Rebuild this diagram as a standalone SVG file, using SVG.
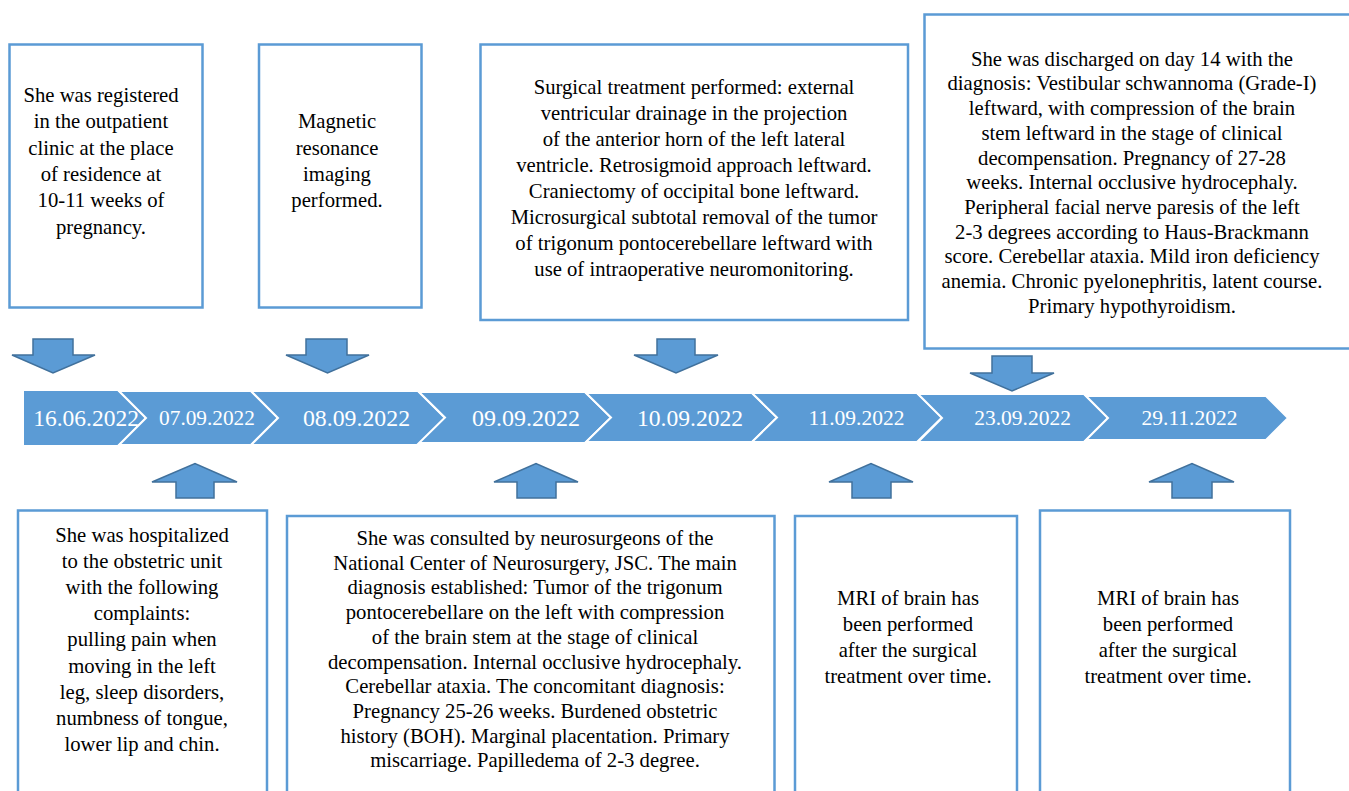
<svg xmlns="http://www.w3.org/2000/svg" width="1349" height="791" viewBox="0 0 1349 791">
<style>
.box{fill:#fff;stroke:#5B9BD5;stroke-width:2.5}
.chev{fill:#5B9BD5;stroke:#fff;stroke-width:2;stroke-linejoin:miter}
.arr{fill:#5B9BD5;stroke:#41719C;stroke-width:1.5;stroke-linejoin:miter}
.t{font-family:"Liberation Serif","Times New Roman",serif;font-size:20.7px;fill:#000;text-anchor:middle}
.d{font-family:"Liberation Serif","Times New Roman",serif;fill:#fff;text-anchor:middle}
</style>
<rect width="1349" height="791" fill="#fff"/>

<g id="timeline">
<polygon class="chev" points="23,390 118,390 146,418 118,446 23,446"/>
<polygon class="chev" points="119,391 251,391 278,418 251,445 119,445 146,418"/>
<polygon class="chev" points="251,391 418,391 445,418 418,445 251,445 278,418"/>
<polygon class="chev" points="419,392 585,392 611,417.5 585,443 419,443 445,417.5"/>
<polygon class="chev" points="586,393 752,393 777,417.5 752,442 586,442 611,417.5"/>
<polygon class="chev" points="752,393 917,393 942,417.5 917,442 752,442 777,417.5"/>
<polygon class="chev" points="918,394 1084,394 1108,418 1084,442 918,442 942,418"/>
<polygon class="chev" points="1086,396 1266,396 1288,418 1266,440 1086,440 1108,418"/>
<text class="d" x="86" y="426" font-size="23.5">16.06.2022</text>
<text class="d" x="207" y="425" font-size="21.3">07.09.2022</text>
<text class="d" x="356.5" y="426" font-size="23.8">08.09.2022</text>
<text class="d" x="526" y="426" font-size="24">09.09.2022</text>
<text class="d" x="690" y="426" font-size="23.6">10.09.2022</text>
<text class="d" x="856.5" y="425" font-size="21.5">11.09.2022</text>
<text class="d" x="1022.5" y="425" font-size="21.5">23.09.2022</text>
<text class="d" x="1189.5" y="425" font-size="21.5">29.11.2022</text>
</g>

<g id="connectors">
<polygon class="arr" points="33,339 73,339 73,355 95,355 53,373 12,355 33,355"/>
<polygon class="arr" points="306,339 347,339 347,355 369,355 327.5,373 286,355 306,355"/>
<polygon class="arr" points="657,339 695,339 695,355 718,355 676,373 634,355 657,355"/>
<polygon class="arr" points="992,356 1032,356 1032,373 1054,373 1012,391 970,373 992,373"/>
<polygon class="arr" points="176,498 214,498 214,482 237,482 195,463.5 152,482 176,482"/>
<polygon class="arr" points="517,498 556,498 556,482 578,482 536,463.5 494,482 517,482"/>
<polygon class="arr" points="852,498 891,498 891,482 913,482 871,463.5 829,482 852,482"/>
<polygon class="arr" points="1172,498 1212,498 1212,482 1234,482 1192,463.5 1149,482 1172,482"/>
</g>

<g id="node-registered">
<rect class="box" x="9.5" y="44.5" width="193" height="263"/>
<text class="t" x="101"><tspan x="101" y="102">She was registered</tspan><tspan x="101" y="128.3">in the outpatient</tspan><tspan x="101" y="154.6">clinic at the place</tspan><tspan x="101" y="181">of residence at</tspan><tspan x="101" y="207.2">10-11 weeks of</tspan><tspan x="101" y="233.5">pregnancy.</tspan></text>
</g>

<g id="node-mri1">
<rect class="box" x="259" y="44.5" width="162.5" height="263"/>
<text class="t" x="337"><tspan x="337" y="128.3">Magnetic</tspan><tspan x="337" y="154.5">resonance</tspan><tspan x="337" y="180.7">imaging</tspan><tspan x="337" y="207">performed.</tspan></text>
</g>

<g id="node-surgery">
<rect class="box" x="480.5" y="44.5" width="427.5" height="275.5"/>
<text class="t" x="694"><tspan x="694" y="94">Surgical treatment performed: external</tspan><tspan x="694" y="120">ventricular drainage in the projection</tspan><tspan x="694" y="146">of the anterior horn of the left lateral</tspan><tspan x="694" y="172">ventricle. Retrosigmoid approach leftward.</tspan><tspan x="694" y="198">Craniectomy of occipital bone leftward.</tspan><tspan x="694" y="224">Microsurgical subtotal removal of the tumor</tspan><tspan x="694" y="250">of trigonum pontocerebellare leftward with</tspan><tspan x="694" y="276">use of intraoperative neuromonitoring.</tspan></text>
</g>

<g id="node-discharge">
<rect class="box" x="924.5" y="14.5" width="440" height="334"/>
<text class="t" x="1132"><tspan x="1132" y="65.7">She was discharged on day 14 with the</tspan><tspan x="1132" y="90.4">diagnosis: Vestibular schwannoma (Grade-I)</tspan><tspan x="1132" y="115.1">leftward, with compression of the brain</tspan><tspan x="1132" y="139.8">stem leftward in the stage of clinical</tspan><tspan x="1132" y="164.5">decompensation. Pregnancy of 27-28</tspan><tspan x="1132" y="189.2">weeks. Internal occlusive hydrocephaly.</tspan><tspan x="1132" y="213.9">Peripheral facial nerve paresis of the left</tspan><tspan x="1132" y="238.6">2-3 degrees according to Haus-Brackmann</tspan><tspan x="1132" y="263.3">score. Cerebellar ataxia. Mild iron deficiency</tspan><tspan x="1132" y="288">anemia. Chronic pyelonephritis, latent course.</tspan><tspan x="1132" y="312.7">Primary hypothyroidism.</tspan></text>
</g>

<g id="node-hospitalized">
<rect class="box" x="18" y="510.5" width="249" height="300"/>
<text class="t" x="142"><tspan x="142" y="542">She was hospitalized</tspan><tspan x="142" y="568.1">to the obstetric unit</tspan><tspan x="142" y="594.2">with the following</tspan><tspan x="142" y="620.3">complaints:</tspan><tspan x="142" y="646.4">pulling pain when</tspan><tspan x="142" y="672.5">moving in the left</tspan><tspan x="142" y="698.6">leg, sleep disorders,</tspan><tspan x="142" y="724.7">numbness of tongue,</tspan><tspan x="142" y="750.8">lower lip and chin.</tspan></text>
</g>

<g id="node-consulted">
<rect class="box" x="287" y="516" width="487.5" height="300"/>
<text class="t" x="535"><tspan x="535" y="545">She was consulted by neurosurgeons of the</tspan><tspan x="535" y="569.7">National Center of Neurosurgery, JSC. The main</tspan><tspan x="535" y="594.4">diagnosis established: Tumor of the trigonum</tspan><tspan x="535" y="619.1">pontocerebellare on the left with compression</tspan><tspan x="535" y="643.8">of the brain stem at the stage of clinical</tspan><tspan x="535" y="668.5">decompensation. Internal occlusive hydrocephaly.</tspan><tspan x="535" y="693.2">Cerebellar ataxia. The concomitant diagnosis:</tspan><tspan x="535" y="717.9">Pregnancy 25-26 weeks. Burdened obstetric</tspan><tspan x="535" y="742.6">history (BOH). Marginal placentation. Primary</tspan><tspan x="535" y="767.3">miscarriage. Papilledema of 2-3 degree.</tspan></text>
</g>

<g id="node-mri2">
<rect class="box" x="795" y="516" width="222" height="300"/>
<text class="t" x="908"><tspan x="908" y="605">MRI of brain has</tspan><tspan x="908" y="631">been performed</tspan><tspan x="908" y="657">after the surgical</tspan><tspan x="908" y="683">treatment over time.</tspan></text>
</g>

<g id="node-mri3">
<rect class="box" x="1040" y="510.5" width="250" height="300"/>
<text class="t" x="1168"><tspan x="1168" y="605">MRI of brain has</tspan><tspan x="1168" y="631">been performed</tspan><tspan x="1168" y="657">after the surgical</tspan><tspan x="1168" y="683">treatment over time.</tspan></text>
</g>
</svg>
